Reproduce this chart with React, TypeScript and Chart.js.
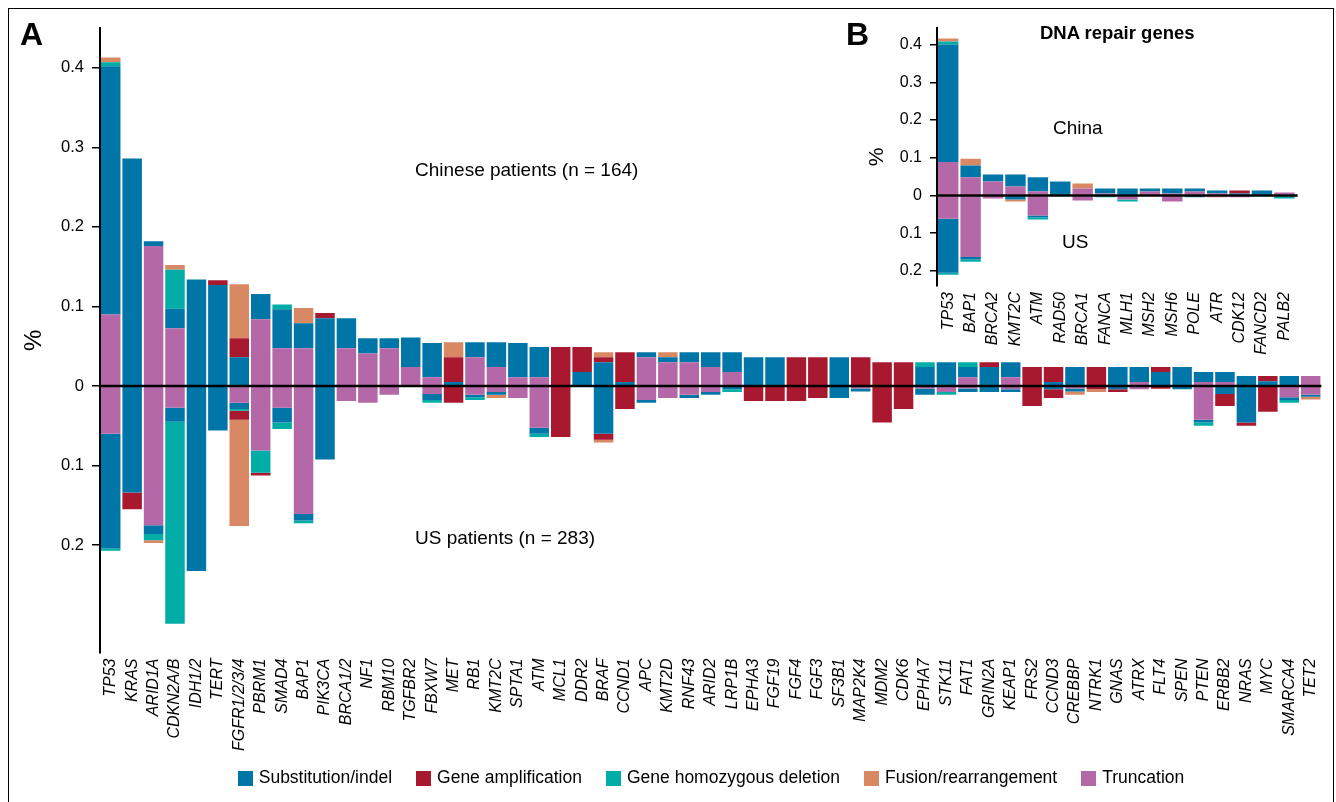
import React, { useEffect, useRef } from "react";
import { Chart, registerables } from "chart.js";
Chart.register(...registerables);

const FONT = '"Liberation Sans", Arial, Helvetica, sans-serif';

// ---------------- Panel A data ----------------
const genes = [
  "TP53", "KRAS", "ARID1A", "CDKN2A/B", "IDH1/2", "TERT", "FGFR1/2/3/4", "PBRM1", "SMAD4", "BAP1",
  "PIK3CA", "BRCA1/2", "NF1", "RBM10", "TGFBR2", "FBXW7", "MET", "RB1", "KMT2C", "SPTA1",
  "ATM", "MCL1", "DDR2", "BRAF", "CCND1", "APC", "KMT2D", "RNF43", "ARID2", "LRP1B",
  "EPHA3", "FGF19", "FGF4", "FGF3", "SF3B1", "MAP2K4", "MDM2", "CDK6", "EPHA7", "STK11",
  "FAT1", "GRIN2A", "KEAP1", "FRS2", "CCND3", "CREBBP", "NTRK1", "GNAS", "ATRX", "FLT4",
  "SPEN", "PTEN", "ERBB2", "NRAS", "MYC", "SMARCA4", "TET2",
];

// Chinese patients (n = 164)
const cnTruncation = [
  0.09, 0, 0.176, 0.0725, 0, 0, 0, 0.084, 0.0475, 0.0475,
  0, 0.0475, 0.041, 0.0475, 0.024, 0.011, 0, 0.036, 0.024, 0.011,
  0.011, 0, 0, 0, 0, 0.036, 0.03, 0.03, 0.024, 0.0175,
  0, 0, 0, 0, 0, 0, 0, 0, 0, 0,
  0.011, 0, 0.011, 0, 0, 0, 0, 0, 0.005, 0,
  0, 0.005, 0.005, 0, 0, 0, 0.0125,
];
const cnSubstitution = [
  0.312, 0.286, 0.006, 0.0245, 0.134, 0.127, 0.036, 0.0315, 0.049, 0.0315,
  0.085, 0.0375, 0.019, 0.0125, 0.037, 0.043, 0.005, 0.019, 0.031, 0.043,
  0.038, 0, 0.0175, 0.03, 0.005, 0.0065, 0.006, 0.0125, 0.0185, 0.025,
  0.036, 0.036, 0, 0, 0.036, 0, 0, 0, 0.024, 0.03,
  0.013, 0.024, 0.019, 0, 0.005, 0.024, 0, 0.024, 0.019, 0.0175,
  0.024, 0.0125, 0.0125, 0.0125, 0.006, 0.0125, 0,
];
const cnDeletion = [
  0.005, 0, 0, 0.049, 0, 0, 0, 0, 0.006, 0,
  0, 0, 0, 0, 0, 0, 0, 0, 0, 0,
  0, 0, 0, 0, 0, 0, 0, 0, 0, 0,
  0, 0, 0, 0, 0, 0, 0, 0, 0.006, 0,
  0.006, 0, 0, 0, 0, 0, 0, 0, 0, 0,
  0, 0, 0, 0, 0, 0, 0,
];
const cnAmplification = [
  0, 0, 0, 0, 0, 0.006, 0.024, 0, 0, 0,
  0.0066, 0, 0, 0, 0, 0, 0.031, 0, 0, 0,
  0, 0.049, 0.0315, 0.006, 0.0375, 0, 0, 0, 0, 0,
  0, 0, 0.036, 0.036, 0, 0.036, 0.03, 0.03, 0, 0,
  0, 0.006, 0, 0.024, 0.019, 0, 0.024, 0, 0, 0.0065,
  0, 0, 0, 0, 0.0065, 0, 0,
];
const cnFusion = [
  0.006, 0, 0, 0.006, 0, 0, 0.068, 0, 0, 0.019,
  0, 0, 0, 0, 0, 0, 0.019, 0, 0, 0,
  0, 0, 0, 0.0065, 0, 0, 0.0065, 0, 0, 0,
  0, 0, 0, 0, 0, 0, 0, 0, 0, 0,
  0, 0, 0, 0, 0, 0, 0, 0, 0, 0,
  0, 0, 0, 0, 0, 0, 0,
];

// US patients (n = 283), magnitudes (drawn downward)
const usTruncation = [
  0.06, 0, 0.175, 0.0275, 0, 0, 0.021, 0.081, 0.0275, 0.161,
  0, 0.019, 0.021, 0.011, 0, 0.01, 0, 0.011, 0.0075, 0.015,
  0.0525, 0, 0, 0, 0, 0.0175, 0.015, 0.011, 0.0075, 0,
  0, 0, 0, 0, 0, 0.003, 0, 0, 0.003, 0.0075,
  0.003, 0, 0.004, 0, 0, 0.003, 0, 0, 0.004, 0,
  0, 0.0425, 0, 0, 0, 0.014, 0.011,
];
const usSubstitution = [
  0.144, 0.134, 0.011, 0.0175, 0.2325, 0.056, 0.008, 0, 0.0185, 0.008,
  0.0925, 0, 0, 0, 0, 0.0075, 0, 0.003, 0.0035, 0,
  0.0075, 0, 0, 0.06, 0, 0.0035, 0, 0.004, 0.0035, 0.004,
  0, 0, 0, 0, 0.015, 0.004, 0, 0, 0.008, 0,
  0.0045, 0.0075, 0.0035, 0, 0.004, 0.004, 0, 0.004, 0, 0,
  0.004, 0.0035, 0.01, 0.046, 0, 0.0035, 0.0025,
];
const usDeletion = [
  0.003, 0, 0.008, 0.254, 0, 0, 0.002, 0.028, 0.008, 0.0035,
  0, 0, 0, 0, 0, 0.0035, 0, 0.0035, 0, 0,
  0.004, 0, 0, 0, 0, 0, 0, 0, 0, 0.0035,
  0, 0, 0, 0, 0, 0, 0, 0, 0, 0.0035,
  0, 0, 0, 0, 0, 0, 0, 0, 0, 0,
  0, 0.004, 0, 0, 0, 0.0035, 0,
];
const usAmplification = [
  0, 0.021, 0, 0, 0, 0, 0.0115, 0.0035, 0, 0,
  0, 0, 0, 0, 0, 0, 0.021, 0, 0, 0,
  0, 0.064, 0, 0.0075, 0.029, 0, 0, 0, 0, 0,
  0.019, 0.019, 0.019, 0.015, 0, 0, 0.046, 0.029, 0, 0,
  0, 0, 0, 0.025, 0.011, 0, 0.004, 0.0035, 0, 0.0035,
  0, 0, 0.015, 0.004, 0.0325, 0, 0,
];
const usFusion = [
  0, 0, 0.0035, 0, 0, 0, 0.1335, 0, 0, 0,
  0, 0, 0, 0, 0, 0, 0, 0, 0.004, 0,
  0, 0, 0, 0.0035, 0, 0, 0, 0, 0, 0,
  0, 0, 0, 0, 0, 0, 0, 0, 0, 0,
  0, 0, 0, 0, 0, 0.004, 0.0035, 0, 0, 0,
  0, 0, 0, 0, 0, 0, 0.0035,
];

const mainYTicks = [-0.2, -0.1, 0, 0.1, 0.2, 0.3, 0.4];

// ---------------- Panel B data (DNA repair genes) ----------------
const repairGenes = [
  "TP53", "BAP1", "BRCA2", "KMT2C", "ATM", "RAD50", "BRCA1", "FANCA",
  "MLH1", "MSH2", "MSH6", "POLE", "ATR", "CDK12", "FANCD2", "PALB2",
];
const rCnTruncation = [0.089, 0.048, 0.037, 0.024, 0.0106, 0, 0.0186, 0.005, 0, 0.0106, 0.005, 0.0106, 0.005, 0, 0, 0.008];
const rCnSubstitution = [0.311, 0.0316, 0.0187, 0.0317, 0.0374, 0.037, 0, 0.0136, 0.0186, 0.008, 0.0136, 0.008, 0.008, 0.005, 0.013, 0];
const rCnDeletion = [0.008, 0, 0, 0, 0, 0, 0, 0, 0, 0, 0, 0, 0, 0, 0, 0];
const rCnAmplification = [0, 0, 0, 0, 0, 0, 0, 0, 0, 0, 0, 0, 0, 0.008, 0, 0];
const rCnFusion = [0.008, 0.018, 0, 0, 0, 0, 0.0134, 0, 0, 0, 0, 0, 0, 0, 0, 0];
const rUsTruncation = [0.062, 0.163, 0.008, 0, 0.053, 0, 0.013, 0, 0.0106, 0, 0.016, 0, 0, 0.005, 0, 0];
const rUsSubstitution = [0.143, 0.007, 0, 0.0106, 0.005, 0, 0, 0, 0, 0, 0, 0.005, 0, 0, 0, 0];
const rUsDeletion = [0.005, 0.006, 0, 0, 0.006, 0, 0, 0.005, 0.0054, 0, 0, 0, 0, 0, 0, 0.008];
const rUsAmplification = [0, 0, 0, 0, 0, 0, 0, 0, 0, 0, 0, 0, 0, 0, 0, 0];
const rUsFusion = [0, 0, 0, 0.0054, 0, 0, 0, 0, 0, 0, 0, 0, 0.005, 0, 0, 0];

const insetYTicks = [-0.2, -0.1, 0, 0.1, 0.2, 0.3, 0.4];

// ---------------- styles ----------------
const COLORS: Record<string, string> = {
  sub: "#0076A8",
  amp: "#A8182E",
  del: "#00ADA7",
  fus: "#D88963",
  trunc: "#B568A8",
};
const LEGEND = [
  { key: "sub", label: "Substitution/indel" },
  { key: "amp", label: "Gene amplification" },
  { key: "del", label: "Gene homozygous deletion" },
  { key: "fus", label: "Fusion/rearrangement" },
  { key: "trunc", label: "Truncation" },
];
const STACK_ORDER = ["trunc", "sub", "del", "amp", "fus"];

type Series = Record<string, number[]>;

function buildDatasets(cn: Series, us: Series, barPct: number) {
  const ds: any[] = [];
  for (const k of STACK_ORDER) {
    ds.push({
      label: "China " + k,
      data: cn[k],
      backgroundColor: COLORS[k],
      stack: "s",
      barPercentage: barPct,
      categoryPercentage: 1,
      borderWidth: 0,
    });
    ds.push({
      label: "US " + k,
      data: us[k].map((v) => -v),
      backgroundColor: COLORS[k],
      stack: "s",
      barPercentage: barPct,
      categoryPercentage: 1,
      borderWidth: 0,
    });
  }
  return ds;
}

const zeroLine = {
  id: "zeroLine",
  afterDatasetsDraw(chart: any, _args: any, opts: any) {
    const { ctx, chartArea, scales } = chart;
    const y = scales.y.getPixelForValue(0);
    ctx.save();
    ctx.strokeStyle = "#000";
    ctx.lineWidth = opts.width || 2.5;
    ctx.beginPath();
    ctx.moveTo(chartArea.left, y);
    ctx.lineTo(chartArea.right + (opts.extend || 0), y);
    ctx.stroke();
    ctx.restore();
  },
};

function fmt(v: number) {
  const a = Math.abs(v);
  if (a < 1e-9) return "0";
  return String(Math.round(a * 10) / 10);
}

function makeOptions(p: any) {
  return {
    responsive: false,
    animation: false,
    layout: { padding: { top: p.padTop, right: p.padRight, left: 0, bottom: 0 } },
    plugins: {
      legend: { display: false },
      tooltip: { enabled: false },
      zeroLine: { width: 2.5, extend: p.zeroExtend || 0 },
    },
    scales: {
      x: {
        stacked: true,
        grid: { display: false, drawTicks: false },
        border: { display: false },
        ticks: {
          autoSkip: false,
          maxRotation: 90,
          minRotation: 90,
          color: "#000",
          padding: p.xPad,
          font: { family: FONT, size: p.labelFont, style: "italic" },
        },
        afterFit: (s: any) => {
          s.height = p.xHeight;
        },
      },
      y: {
        stacked: true,
        min: p.min,
        max: p.max,
        afterBuildTicks: (s: any) => {
          s.ticks = p.ticks.map((v: number) => ({ value: v }));
        },
        afterFit: (s: any) => {
          s.width = p.yWidth;
        },
        grid: {
          drawOnChartArea: false,
          color: "#000",
          tickColor: "#000",
          tickLength: p.tickLen,
          tickWidth: 1.5,
          lineWidth: 1.5,
        },
        border: { display: true, color: "#000", width: 2 },
        ticks: {
          color: "#000",
          padding: p.yPad,
          font: { family: FONT, size: p.tickFont },
          callback: (v: any) => fmt(Number(v)),
        },
        title: {
          display: true,
          text: "%",
          color: "#000",
          font: { family: FONT, size: p.titleFont },
          padding: { top: p.titlePad, bottom: 0 },
        },
      },
    },
  };
}

const textStyle = (left: number, top: number, size: number, bold = false): React.CSSProperties => ({
  position: "absolute",
  left,
  top,
  fontSize: size,
  lineHeight: 1,
  fontWeight: bold ? 700 : 400,
  whiteSpace: "nowrap",
  color: "#000",
  fontFamily: FONT,
});

export default function App() {
  const mainRef = useRef<HTMLCanvasElement>(null);
  const insetRef = useRef<HTMLCanvasElement>(null);

  useEffect(() => {
    const mainCn = { trunc: cnTruncation, sub: cnSubstitution, del: cnDeletion, amp: cnAmplification, fus: cnFusion };
    const mainUs = { trunc: usTruncation, sub: usSubstitution, del: usDeletion, amp: usAmplification, fus: usFusion };
    const insCn = { trunc: rCnTruncation, sub: rCnSubstitution, del: rCnDeletion, amp: rCnAmplification, fus: rCnFusion };
    const insUs = { trunc: rUsTruncation, sub: rUsSubstitution, del: rUsDeletion, amp: rUsAmplification, fus: rUsFusion };

    const c1 = new Chart(mainRef.current as HTMLCanvasElement, {
      type: "bar",
      data: { labels: genes, datasets: buildDatasets(mainCn, mainUs, 0.91) },
      options: makeOptions({
        padTop: 28,
        padRight: 14,
        xHeight: 117.5,
        yWidth: 100,
        min: -0.335,
        max: 0.45,
        ticks: mainYTicks,
        tickLen: 8,
        yPad: 8,
        tickFont: 16.5,
        labelFont: 16,
        xPad: 6,
        titleFont: 24,
        titlePad: 20,
      }) as any,
      plugins: [zeroLine as any],
    });

    const c2 = new Chart(insetRef.current as HTMLCanvasElement, {
      type: "bar",
      data: { labels: repairGenes, datasets: buildDatasets(insCn, insUs, 0.91) },
      options: makeOptions({
        padTop: 28,
        padRight: 13,
        xHeight: 86,
        yWidth: 97,
        min: -0.24,
        max: 0.444,
        ticks: insetYTicks,
        tickLen: 7,
        yPad: 8,
        tickFont: 16,
        labelFont: 16,
        xPad: 6,
        titleFont: 21,
        titlePad: 25,
        zeroExtend: 2,
      }) as any,
      plugins: [zeroLine as any],
    });

    return () => {
      c1.destroy();
      c2.destroy();
    };
  }, []);

  return (
    <div
      style={{
        position: "absolute",
        left: 0,
        top: 0,
        width: 1336,
        height: 802,
        overflow: "hidden",
        background: "#fff",
        fontFamily: FONT,
      }}
    >
      <div
        style={{
          position: "absolute",
          left: 8,
          top: 8,
          width: 1326,
          height: 830,
          border: "1.5px solid #000",
          boxSizing: "border-box",
        }}
      />
      <canvas ref={mainRef} width={1336} height={770} style={{ position: "absolute", left: 0, top: 0 }} />
      <canvas ref={insetRef} width={470} height={372} style={{ position: "absolute", left: 840, top: 0 }} />

      <div style={textStyle(20, 18, 32, true)}>A</div>
      <div style={textStyle(846, 18, 32, true)}>B</div>
      <div style={textStyle(415, 160, 19)}>Chinese patients (n = 164)</div>
      <div style={textStyle(415, 528, 19)}>US patients (n = 283)</div>
      <div style={textStyle(1040, 24, 18.5, true)}>DNA repair genes</div>
      <div style={textStyle(1053, 118, 19)}>China</div>
      <div style={textStyle(1062, 232, 19)}>US</div>

      <div
        style={{
          position: "absolute",
          left: 100,
          width: 1222,
          top: 770,
          height: 16,
          display: "flex",
          justifyContent: "center",
          alignItems: "center",
          gap: 24,
        }}
      >
        {LEGEND.map((it) => (
          <div key={it.key} style={{ display: "flex", alignItems: "center" }}>
            <span style={{ display: "inline-block", width: 15, height: 15, background: COLORS[it.key], marginRight: 6 }} />
            <span style={{ fontSize: 17.5, lineHeight: 1, color: "#000", whiteSpace: "nowrap" }}>{it.label}</span>
          </div>
        ))}
      </div>
    </div>
  );
}
